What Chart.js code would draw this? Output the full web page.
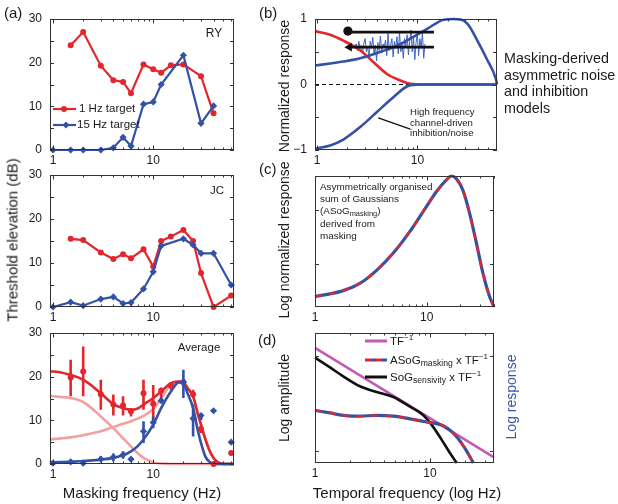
<!DOCTYPE html>
<html>
<head>
<meta charset="utf-8">
<script src="https://cdn.jsdelivr.net/npm/chart.js@4.4.1/dist/chart.umd.min.js"></script>
<style>
  body { margin: 0; background: #fff; }
  #fig { position: relative; width: 618px; height: 504px; overflow: hidden; font-family: "Liberation Sans", Arial, sans-serif; color: #1a1a1a; }
  #fig canvas { position: absolute; }
  .t { position: absolute; white-space: nowrap; line-height: 1; }
  .vc { transform: translateY(-50%); }
  .cc { transform: translate(-50%, -50%); }
  .rot { transform: translate(-50%, -50%) rotate(-90deg); }
  .sub { font-size: 0.75em; position: relative; top: 0.3em; }
  .key { position: absolute; height: 3px; width: 22px; transform: translateY(-50%); }
</style>
</head>
<body>
<div id="fig">
  <canvas id="ry"></canvas>
  <canvas id="jc"></canvas>
  <canvas id="avg"></canvas>
  <canvas id="pb"></canvas>
  <canvas id="pc"></canvas>
  <canvas id="pd"></canvas>

  <div class="t vc" style="left:4px;top:12px;font-size:15px">(a)</div>
  <div class="t vc" style="left:259px;top:12px;font-size:15px">(b)</div>
  <div class="t vc" style="left:259px;top:168px;font-size:15px">(c)</div>
  <div class="t vc" style="left:258px;top:339px;font-size:15px">(d)</div>

  <div class="t rot" style="left:12px;top:240px;font-size:15px">Threshold elevation (dB)</div>
  <div class="t rot" style="left:284px;top:86px;font-size:14px">Normalized response</div>
  <div class="t rot" style="left:284px;top:240px;font-size:14px">Log normalized response</div>
  <div class="t rot" style="left:284px;top:398px;font-size:14px">Log amplitude</div>
  <div class="t rot" style="left:511px;top:397px;font-size:14px;color:#3a56a8">Log response</div>
  <div class="t cc" style="left:142px;top:492px;font-size:15px">Masking frequency (Hz)</div>
  <div class="t cc" style="left:407px;top:492px;font-size:15px">Temporal frequency (log Hz)</div>

  <div class="t" style="left:504px;top:50px;font-size:14.3px;line-height:16.7px">Masking-derived<br>asymmetric noise<br>and inhibition<br>models</div>

  <div class="t cc" style="left:214px;top:33px;font-size:12px">RY</div>
  <div class="t cc" style="left:217px;top:191px;font-size:11.5px">JC</div>
  <div class="t cc" style="left:199px;top:348px;font-size:11.5px">Average</div>
  <div class="t vc" style="left:79px;top:109px;font-size:11.5px">1 Hz target</div>
  <div class="t vc" style="left:77px;top:125px;font-size:11.5px">15 Hz target</div>

  <div class="t" style="left:410px;top:107px;font-size:9.6px;line-height:10.5px">High frequency<br>channel-driven<br>inhibition/noise</div>
  <div class="t" style="left:320px;top:181px;font-size:9.9px;line-height:12.1px">Asymmetrically organised<br>sum of Gaussians<br>(ASoG<span class="sub">masking</span>)<br>derived from<br>masking</div>

  <div class="key" style="left:365px;top:341px;background:#c25bb5"></div>
  <div class="key" style="left:365px;top:360px;background:repeating-linear-gradient(90deg,#e3262d 0 6px,#3352a6 6px 11px)"></div>
  <div class="key" style="left:365px;top:377px;background:#111"></div>
  <div class="t vc" style="left:390px;top:341px;font-size:11.5px">TF<sup style="font-size:0.7em">−1</sup></div>
  <div class="t vc" style="left:390px;top:360px;font-size:11.5px">ASoG<span class="sub">masking</span> x TF<sup style="font-size:0.7em">−1</sup></div>
  <div class="t vc" style="left:390px;top:377px;font-size:11.5px">SoG<span class="sub">sensivity</span> x TF<sup style="font-size:0.7em">−1</sup></div>
</div>

<script>
// tick positions and labels
const logTicks = [1, 2, 3, 4, 5, 6, 7, 8, 9, 10, 20, 30, 40, 50, 60];
const xLabels = [1, 10];
const aTicksY = [0, 5, 10, 15, 20, 25, 30];
const aLabelsY = [0, 10, 20, 30];
const bTicksY = [-1, -0.5, 0, 0.5, 1];
const bLabelsY = [-1, 0, 1];
const cTicksY = [0.33, 0.74];
const dTicksY = [0.09, 0.82];

// (a) RY
const ryFreq = [1, 1.5, 2, 3, 4, 5, 6, 8, 10, 12, 15, 20, 30, 40];
const ry1Hz = [null, 24.0, 27.0, 19.3, 16.0, 15.6, 13.0, 19.6, 18.5, 17.7, 19.4, 19.6, 16.9, 8.4];
const ry15Hz = [0, 0, 0, 0, 0.5, 2.9, 0.9, 10.5, 11.0, 15.0, null, 21.7, 6.1, 10.1];

// (a) JC
const jcFreq = [1, 1.5, 2, 3, 4, 5, 6, 8, 10, 12, 15, 20, 25, 30, 40, 60];
const jc1Hz = [null, 15.5, 15.2, 12.4, 10.9, 12.0, 11.1, 13.1, 9.2, 15.0, 16.0, 17.5, 15.0, 7.7, 0, 2.6];
const jc15Hz = [0, 1.1, 0.3, 1.8, 2.3, 0.8, 1.0, 4.1, 8.0, 13.9, null, 15.5, 14.1, 12.2, 12.2, 5.0];

// (a) Average, points and error bars
const avgFreq = [1, 1.5, 2, 3, 4, 5, 6, 8, 10, 12, 15, 20, 25, 30, 40, 60];
const avg1Hz = [null, 19.8, 21.2, 16.0, 13.6, 13.4, 12.1, 16.2, 13.8, 16.8, 18.0, 18.7, 16.0, 8.0, 0, 2.5];
const avg1HzLo = [null, 15.5, 15.5, 12.4, 11.1, 11.1, 10.9, 12.4, 9.4, 15.1, 17.0, 18.0, 15.1, 7.1, null, null];
const avg1HzHi = [null, 23.9, 26.9, 19.3, 15.9, 15.5, 12.8, 19.3, 18.1, 17.5, 18.5, 19.5, 17.0, 9.0, null, null];
const avg15Hz = [0.2, 0.5, 0.2, 1.1, 1.6, 2.1, 1.1, 7.5, 9.5, 14.5, null, 18.7, 10.4, 11.1, 12.2, 5.0];
const avg15HzLo = [null, null, null, 0.7, 0.6, 1.2, 0.6, 4.8, 8.2, 14.0, null, 15.1, 6.3, 10.1, null, null];
const avg15HzHi = [null, null, null, 1.8, 2.4, 2.9, 1.6, 9.8, 10.9, 15.1, null, 21.6, 13.6, 11.7, null, null];

// (a) Average, model fits
const fitFreq = [0.93, 1, 1.5, 2, 3, 4, 5, 6, 7, 8, 10, 12, 15, 18, 20, 22, 25, 28, 30, 33, 36, 40, 45, 50, 64];
const fit1Hz = [21.2, 21.2, 20.4, 19.3, 16.2, 13.7, 12.8, 12.4, 12.7, 13.6, 15.1, 16.6, 18.5, 18.9, 18.7, 17.4, 15.5, 11.3, 9.0, 5.8, 3.4, 1.4, 0.3, 0, 0];
const fit15Hz = [0.4, 0.4, 0.5, 0.7, 1.0, 1.4, 2.0, 2.9, 4.1, 5.6, 9.0, 12.8, 16.6, 18.7, 18.5, 16.2, 12.8, 7.5, 4.8, 1.8, 0.6, 0.05, 0, 0, 0];
const fitLow = [15.6, 15.5, 15.1, 14.2, 10.9, 8.2, 5.9, 4.0, 2.5, 1.4, 0.4, 0.1, 0, 0, 0, 0, 0, 0, 0, 0, 0, 0, 0, 0, 0];
const fitHigh = [5.6, 5.7, 6.1, 6.6, 7.5, 8.5, 9.2, 9.8, 10.4, 11.0, 12.6, 15.0, 18.2, 18.9, 18.7, 17.4, 15.5, 11.3, 9.0, 5.8, 3.4, 1.4, 0.3, 0, 0];

// (b) model components
const bRedFreq = [0.955, 1.35, 1.83, 2.7, 3.66, 4.97, 6.8, 8.5, 12, 20, 40, 62];
const bRed = [0.815, 0.76, 0.67, 0.52, 0.34, 0.16, 0.06, 0.01, 0, 0, 0, 0];
const bUpFreq = [0.955, 1.35, 1.83, 2.69, 3.95, 5.8, 8.5, 12.5, 18.3, 23.1, 31.4, 39.5, 49.8, 60.3, 62];
const bUp = [0.29, 0.32, 0.35, 0.40, 0.48, 0.57, 0.70, 0.85, 0.99, 1.0, 0.93, 0.67, 0.37, 0.09, 0];
const bLowFreq = [0.955, 1.35, 1.83, 2.69, 3.95, 5.8, 8.5, 12, 20, 40, 62];
const bLow = [-0.98, -0.93, -0.84, -0.65, -0.42, -0.19, -0.01, 0, 0, 0, 0];
const bNoise = [0.58, 0.62, 0.52, 0.66, 0.55, 0.60, 0.47, 0.63, 0.70, 0.50, 0.58, 0.40, 0.66, 0.55,
  0.72, 0.45, 0.60, 0.36, 0.64, 0.52, 0.74, 0.48, 0.62, 0.57, 0.68, 0.44, 0.78, 0.52, 0.60, 0.70,
  0.42, 0.66, 0.55, 0.73, 0.47, 0.80, 0.50, 0.62, 0.40, 0.70, 0.58, 0.76, 0.45, 0.66, 0.83, 0.50,
  0.72, 0.38, 0.64, 0.78, 0.44, 0.70, 0.55, 0.80, 0.40, 0.62];
const bZero = [[0.955, 0], [62, 0]];
const bTopArrow = [[2.03, 0.80], [14.6, 0.80]];
const bLowArrow = [[2.1, 0.57], [14.6, 0.57]];
const bDot = [[2.03, 0.815]];
const bHead = [[2.1, 0.57]];
const bPointer = [[4.07, -0.51], [8.5, -0.68]];

// (c) ASoG masking
const cFreq = [1, 1.36, 1.79, 2.52, 3.56, 5.0, 7.05, 9.9, 12.2, 15.0, 16.6, 18.4, 21.1, 24.2, 27.8, 31.8, 36.5, 40];
const cResp = [0.08, 0.10, 0.125, 0.18, 0.28, 0.41, 0.575, 0.765, 0.88, 0.97, 1.0, 0.98, 0.89, 0.715, 0.49, 0.26, 0.08, 0];

// (d) amplitude spectra
const dTfFreq = [1, 36];
const dTf = [0.885, 0.044];
const dSogFreq = [1, 1.35, 1.76, 2.46, 3.44, 4.8, 6.7, 8.75, 10.3, 12.6, 14.9, 17.1];
const dSog = [0.81, 0.735, 0.667, 0.59, 0.546, 0.508, 0.433, 0.367, 0.295, 0.18, 0.077, 0];
const dAsogFreq = [1, 1.35, 1.76, 2.46, 3.44, 4.8, 6.7, 9.36, 13.1, 17.1, 20.9, 23.8];
const dAsog = [0.405, 0.385, 0.367, 0.36, 0.367, 0.36, 0.34, 0.315, 0.285, 0.20, 0.09, 0];

const RED = '#e3262d', BLUE = '#3352a6', PINK = '#f2a0a0', MAG = '#c25bb5', INK = '#1a1a1a';
// canvas margins round each plot box (y labels, x labels, top, right)
const LY = 40, LX = 24, PT = 18, PR = 8;

Chart.defaults.font.family = '"Liberation Sans", Arial, sans-serif';
Chart.defaults.color = INK;

const pts = (xs, ys) => xs.map((x, i) => ({ x, y: ys[i] }));
const pairs = arr => arr.map(p => ({ x: p[0], y: p[1] }));
function bars(xs, lo, hi) {
  const out = [];
  xs.forEach((x, i) => {
    if (lo[i] != null) out.push({ x, y: lo[i] }, { x, y: hi[i] }, { x, y: null });
  });
  return out;
}
// Chart.js paints dataset 0 last; give the list back-to-front order so the first one sits at the bottom
const stack = sets => sets.map((d, i) => Object.assign(d, { order: sets.length - i }));

function place(id, r) {
  const c = document.getElementById(id);
  const w = r.r - r.l + LY + PR, h = r.b - r.t + PT + LX;
  c.width = w; c.height = h;
  c.style.width = w + 'px'; c.style.height = h + 'px';
  c.style.left = (r.l - LY) + 'px'; c.style.top = (r.t - PT) + 'px';
  return c;
}

function xAxis(min, max) {
  return {
    type: 'logarithmic', min, max,
    afterFit: s => { s.height = LX; },
    afterBuildTicks: s => { s.ticks = logTicks.filter(v => v >= min && v <= max).map(v => ({ value: v })); },
    ticks: { autoSkip: false, maxRotation: 0, padding: 3, color: INK, font: { size: 12 },
      callback: v => xLabels.includes(v) ? String(v) : '' },
    grid: { display: false, drawTicks: false },
    border: { display: false }
  };
}

function yAxis(min, max, ticks, labels) {
  return {
    type: 'linear', min, max,
    afterFit: s => { s.width = LY; },
    afterBuildTicks: s => { s.ticks = ticks.map(v => ({ value: v })); },
    ticks: { autoSkip: false, padding: 8, color: INK, font: { size: 12 },
      callback: v => labels.includes(v) ? (v < 0 ? '\u2212' + Math.abs(v) : String(v)) : '' },
    grid: { display: false, drawTicks: false },
    border: { display: false }
  };
}

// box round the plot with inward ticks on all sides
const frame = {
  id: 'frame',
  afterDraw(chart) {
    const { ctx, chartArea: a, scales } = chart;
    ctx.save();
    ctx.strokeStyle = '#333';
    ctx.lineWidth = 1;
    ctx.strokeRect(a.left + 0.5, a.top + 0.5, a.right - a.left - 1, a.bottom - a.top - 1);
    ctx.beginPath();
    scales.x.ticks.forEach(t => {
      const px = Math.round(scales.x.getPixelForValue(t.value)) + 0.5;
      const len = xLabels.includes(t.value) ? 4.5 : 2.5;
      ctx.moveTo(px, a.bottom); ctx.lineTo(px, a.bottom - len);
      ctx.moveTo(px, a.top); ctx.lineTo(px, a.top + len);
    });
    scales.y.ticks.forEach(t => {
      const py = Math.round(scales.y.getPixelForValue(t.value)) + 0.5;
      ctx.moveTo(a.left, py); ctx.lineTo(a.left + 4, py);
      ctx.moveTo(a.right, py); ctx.lineTo(a.right - 4, py);
    });
    ctx.stroke();
    ctx.restore();
  }
};

// "1 Hz / 15 Hz target" key inside the RY panel
const targetKey = {
  id: 'targetKey',
  afterDraw(chart) {
    const ctx = chart.ctx;
    const ox = -(50 - LY), oy = -(19 - PT);
    ctx.save();
    ctx.lineWidth = 2.2;
    ctx.strokeStyle = RED; ctx.fillStyle = RED;
    ctx.beginPath(); ctx.moveTo(53 + ox, 109 + oy); ctx.lineTo(76 + ox, 109 + oy); ctx.stroke();
    ctx.beginPath(); ctx.arc(64 + ox, 109 + oy, 3, 0, Math.PI * 2); ctx.fill();
    ctx.strokeStyle = BLUE; ctx.fillStyle = BLUE;
    ctx.beginPath(); ctx.moveTo(53 + ox, 125 + oy); ctx.lineTo(76 + ox, 125 + oy); ctx.stroke();
    ctx.beginPath();
    ctx.moveTo(66 + ox, 121.5 + oy); ctx.lineTo(69.5 + ox, 125 + oy);
    ctx.lineTo(66 + ox, 128.5 + oy); ctx.lineTo(62.5 + ox, 125 + oy); ctx.closePath(); ctx.fill();
    ctx.restore();
  }
};

function lineSet(data, color, extra) {
  return Object.assign({ data, borderColor: color, backgroundColor: color, borderWidth: 2.2,
    pointRadius: 0, clip: false, spanGaps: true }, extra || {});
}

function baseOptions(scales) {
  return {
    responsive: false, animation: false, events: [],
    layout: { padding: { top: PT, right: PR, left: 0, bottom: 0 } },
    plugins: { legend: { display: false }, tooltip: { enabled: false } },
    scales
  };
}

function subjectChart(id, rect, freq, s1, s15, extraPlugins) {
  new Chart(place(id, rect), {
    type: 'line',
    data: { datasets: stack([
      lineSet(pts(freq, s1), RED, { pointStyle: 'circle', pointRadius: 3, pointBorderWidth: 0 }),
      lineSet(pts(freq, s15), BLUE, { pointStyle: 'rectRot', pointRadius: 3.6, pointBorderWidth: 0 })
    ]) },
    options: baseOptions({ x: xAxis(0.933, 64), y: yAxis(0, 30, aTicksY, aLabelsY) }),
    plugins: [frame].concat(extraPlugins || [])
  });
}

subjectChart('ry', { l: 50, t: 19, r: 234, b: 150 }, ryFreq, ry1Hz, ry15Hz, [targetKey]);
subjectChart('jc', { l: 50, t: 175, r: 234, b: 307 }, jcFreq, jc1Hz, jc15Hz);

const smooth = { cubicInterpolationMode: 'monotone', borderWidth: 2.6 };
new Chart(place('avg', { l: 50, t: 333, r: 234, b: 464 }), {
  type: 'line',
  data: { datasets: stack([
    lineSet(pts(fitFreq, fitLow), PINK, smooth),
    lineSet(pts(fitFreq, fitHigh), PINK, smooth),
    lineSet(pts(fitFreq, fit1Hz), RED, smooth),
    lineSet(pts(fitFreq, fit15Hz), BLUE, smooth),
    lineSet(bars(avgFreq, avg1HzLo, avg1HzHi), RED, { spanGaps: false, borderWidth: 2.6 }),
    lineSet(bars(avgFreq, avg15HzLo, avg15HzHi), BLUE, { spanGaps: false, borderWidth: 2.6 }),
    lineSet(pts(avgFreq, avg1Hz), RED, { showLine: false, pointStyle: 'circle', pointRadius: 3, pointBorderWidth: 0 }),
    lineSet(pts(avgFreq, avg15Hz), BLUE, { showLine: false, pointStyle: 'rectRot', pointRadius: 3.6, pointBorderWidth: 0 })
  ]) },
  options: baseOptions({ x: xAxis(0.933, 64), y: yAxis(0, 30, aTicksY, aLabelsY) }),
  plugins: [frame]
});

new Chart(place('pb', { l: 315, t: 19, r: 497, b: 150 }), {
  type: 'line',
  data: { datasets: stack([
    lineSet(pairs(bZero), '#111', { borderWidth: 1, borderDash: [4, 3] }),
    lineSet(bNoise.map((y, i) => ({ x: i, y })), '#3f63c4', { xAxisID: 'xn', borderWidth: 1 }),
    lineSet(pts(bRedFreq, bRed), RED, smooth),
    lineSet(pts(bUpFreq, bUp), BLUE, smooth),
    lineSet(pts(bLowFreq, bLow), BLUE, smooth),
    lineSet(pairs(bTopArrow), '#111', { borderWidth: 2.6 }),
    lineSet(pairs(bLowArrow), '#111', { borderWidth: 2.6 }),
    lineSet(pairs(bDot), '#111', { showLine: false, pointRadius: 4.6, pointBorderWidth: 0 }),
    lineSet(pairs(bHead), '#111', { showLine: false, pointStyle: 'triangle', rotation: -90, pointRadius: 5, pointBorderWidth: 0 }),
    lineSet(pairs(bPointer), '#111', { borderWidth: 1.3 })
  ]) },
  options: baseOptions({
    x: xAxis(0.955, 62),
    xn: { type: 'linear', display: false, min: -31.4, max: 111.6 },
    y: yAxis(-1, 1, bTicksY, bLabelsY)
  }),
  plugins: [frame]
});

new Chart(place('pc', { l: 315, t: 176, r: 494, b: 307 }), {
  type: 'line',
  data: { datasets: stack([
    lineSet(pts(cFreq, cResp), BLUE, { cubicInterpolationMode: 'monotone', borderWidth: 3.2 }),
    lineSet(pts(cFreq, cResp), RED, { cubicInterpolationMode: 'monotone', borderWidth: 2.2, borderDash: [7, 7] })
  ]) },
  options: baseOptions({ x: xAxis(1, 40), y: yAxis(0, 1, cTicksY, []) }),
  plugins: [frame]
});

new Chart(place('pd', { l: 315, t: 333, r: 494, b: 463 }), {
  type: 'line',
  data: { datasets: stack([
    lineSet(pts(dTfFreq, dTf), MAG, { borderWidth: 2.6 }),
    lineSet(pts(dSogFreq, dSog), '#111', { cubicInterpolationMode: 'monotone', borderWidth: 2.6 }),
    lineSet(pts(dAsogFreq, dAsog), BLUE, { cubicInterpolationMode: 'monotone', borderWidth: 3.2 }),
    lineSet(pts(dAsogFreq, dAsog), RED, { cubicInterpolationMode: 'monotone', borderWidth: 2.2, borderDash: [7, 7] })
  ]) },
  options: baseOptions({ x: xAxis(1, 36), y: yAxis(0, 1, dTicksY, []) }),
  plugins: [frame]
});
</script>
</body>
</html>
